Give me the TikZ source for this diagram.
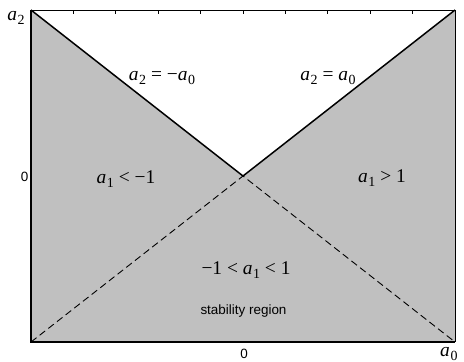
\documentclass[tikz,border=0pt]{standalone}
\usepackage{fontspec}
\setmainfont{Liberation Serif}
\setsansfont{Liberation Sans}
\newcommand{\va}[1]{\textit{a}\kern0.03em\raisebox{-0.22em}{\fontsize{14}{15}\selectfont #1}}
\tikzset{
  mathlbl/.style={font=\fontsize{19.5}{21}\selectfont, inner sep=0pt},
  sanslbl/.style={font=\sffamily\fontsize{13.5}{15}\selectfont, inner sep=0pt},
  boundary/.style={line width=1.5bp},
  dashedline/.style={line width=0.9bp, dash pattern=on 7bp off 4bp},
}
\definecolor{regiongrey}{RGB}{192,192,192}
\begin{document}
\begin{tikzpicture}[x=1bp,y=-1bp]
\useasboundingbox (0,0) rectangle (464,361);
\coordinate (tl) at (31,10);
\coordinate (tr) at (455,10);
\coordinate (bl) at (31,342);
\coordinate (br) at (455,342);
\coordinate (c) at (243,176);
% regions
\fill[regiongrey] (tl) rectangle (br);
\fill[white] (tl) -- (tr) -- (c) -- cycle;
% boundaries
\draw[boundary] (tl) -- (c) -- (tr);
\draw[dashedline] (bl) -- (c) -- (br);
% frame
\draw[line width=0.8bp] (bl) -- (tl) -- (tr) -- (br);
\draw[line width=1.8bp] (tl) -- (bl) -- (br);
% ticks on top edge
\foreach \i in {1,...,9} {
  \draw[line width=0.7bp] ({31+42.4*\i},10) -- ({31+42.4*\i},13.5);
}
% axis labels
\node[mathlbl] (ya) at (16,18) {\va{2}};
\node[mathlbl, anchor=west] (xa) at (440,354) {\va{0}};
\node[sanslbl] (y0) at (24.5,177) {0};
\node[sanslbl] (x0) at (244,354) {0};
% region labels
\node[mathlbl] (l1) at (162,78) {\va{2} = −\va{0}};
\node[mathlbl] (l2) at (328,78) {\va{2} = \va{0}};
\node[mathlbl] (l3) at (126,179) {\va{1} < −1};
\node[mathlbl] (l4) at (382,178) {\va{1} > 1};
\node[mathlbl] (l5) at (246,270) {−1 < \va{1} < 1};
\node[sanslbl] (l6) at (243.5,311) {stability region};
\end{tikzpicture}
\end{document}
